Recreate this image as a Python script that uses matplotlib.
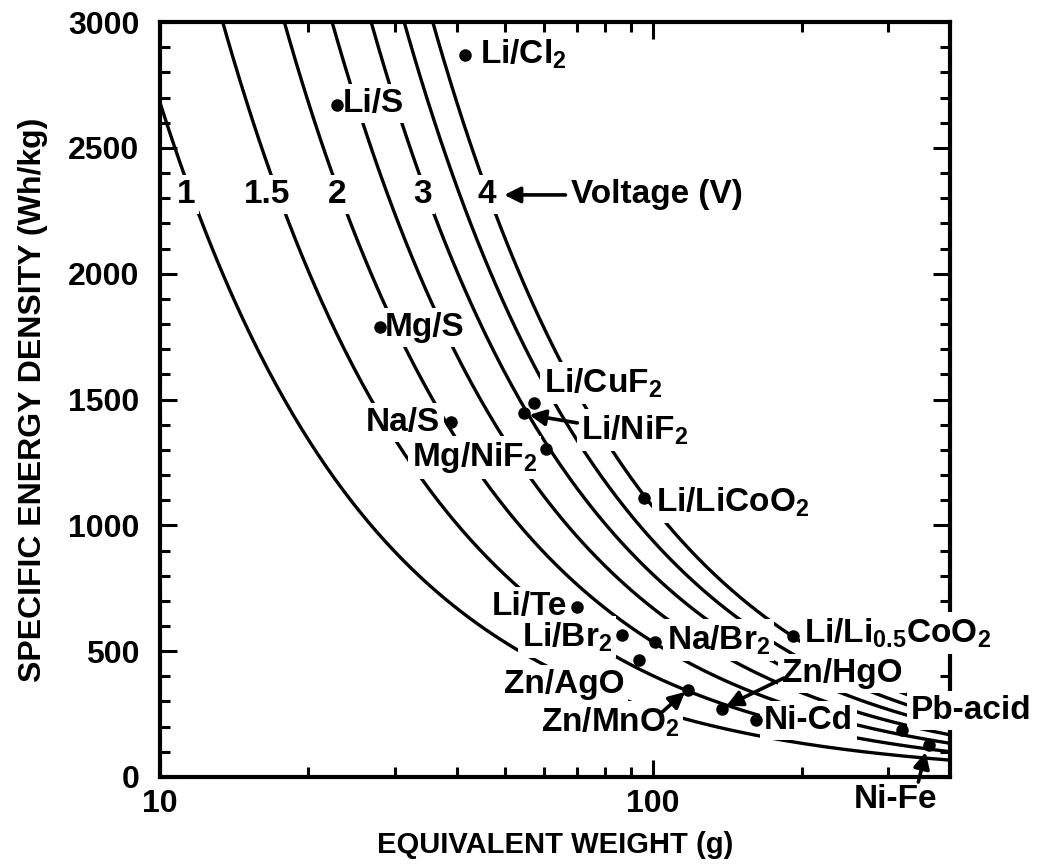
import numpy as np
import matplotlib.pyplot as plt
from matplotlib.ticker import FixedLocator, NullFormatter, FixedFormatter, MultipleLocator

plt.rcParams['font.family'] = ['Liberation Sans', 'DejaVu Sans']
plt.rcParams['font.weight'] = 'bold'
plt.rcParams['axes.labelweight'] = 'bold'
plt.rcParams['mathtext.fontset'] = 'custom'
plt.rcParams['mathtext.rm'] = 'Liberation Sans:bold'
plt.rcParams['mathtext.it'] = 'Liberation Sans:bold'
plt.rcParams['mathtext.bf'] = 'Liberation Sans:bold'

# iso-voltage lines: E (Wh/kg) = 26.8 Ah/equiv * V / EW
voltages = [1, 1.5, 2, 2.5, 3, 3.5, 4]
voltage_labels = ['1', '1.5', '2', '3', '4']
voltage_label_x = [11.3, 16.5, 22.9, 34.0, 45.9]
voltage_label_y = 2313
FARADAY_AH = 26.8

# couples: equivalent weight (g), specific energy (Wh/kg)
couples = ['Li/Cl$_2$', 'Li/S', 'Mg/S', 'Na/S', 'Li/CuF$_2$', 'Li/NiF$_2$',
           'Mg/NiF$_2$', 'Li/LiCoO$_2$', 'Li/Te', 'Li/Br$_2$', 'Na/Br$_2$',
           'Zn/AgO', 'Zn/MnO$_2$', 'Zn/HgO', 'Ni-Cd', 'Li/Li$_{0.5}$CoO$_2$',
           'Pb-acid', 'Ni-Fe']
equiv_weight = [41.6, 22.8, 27.9, 39.0, 57.4, 54.6, 60.5, 96.0, 70.2, 86.5,
                100.9, 93.7, 117.8, 138.0, 161.6, 192.0, 319.0, 362.0]
spec_energy = [2870, 2670, 1788, 1411, 1486, 1447, 1303, 1109, 676, 564,
               536, 465, 346, 270, 227, 560, 187, 127]

# label anchor (x, y, ha) for each couple
label_x = [44.5, 23.5, 28.6, 36.9, 60.1, 71.5, 58.2, 101.4, 67.0, 82.6,
           106.7, 87.3, 112.9, 182.4, 167.8, 202.2, 332.7, 310.5]
label_y = [2870, 2678, 1788, 1407, 1566, 1379, 1268, 1093, 676, 556,
           544, 366, 219, 413, 226, 572, 266, -91]
label_ha = ['left', 'left', 'left', 'right', 'left', 'left', 'right', 'left',
            'right', 'right', 'left', 'right', 'right', 'left', 'left', 'left',
            'left', 'center']

# pointer arrows: (from, to)
arrows = [((66.4, 2313), (49.9, 2313)),
          ((70.2, 1407), (56.1, 1439)),
          ((104.3, 258), (116.1, 338)),
          ((184.0, 393), (140.7, 282)),
          ((345.0, -20), (357.0, 99))]

fig = plt.figure(figsize=(10.41, 8.64), dpi=100)
ax = fig.add_axes([0.1537, 0.1007, 0.7589, 0.8738])

ew = np.geomspace(8, 400, 400)
for v in voltages:
    ax.plot(ew, FARADAY_AH * v * 1000 / ew, color='black', lw=2.4, zorder=2)

box = dict(facecolor='white', edgecolor='none', pad=3)
for lab, lx in zip(voltage_labels, voltage_label_x):
    ax.text(lx, voltage_label_y, lab, fontsize=24, ha='center', va='center',
            bbox=box, zorder=3)
ax.text(68.2, voltage_label_y, 'Voltage (V)', fontsize=24, ha='left',
        va='center', bbox=box, zorder=3)

ax.plot(equiv_weight, spec_energy, 'o', color='black', ms=8, zorder=5,
        clip_on=False)
for name, lx, ly, ha in zip(couples, label_x, label_y, label_ha):
    ax.text(lx, ly, name, fontsize=24, ha=ha, va='center', bbox=box,
            zorder=3, clip_on=False)

for start, end in arrows:
    ax.annotate('', xy=end, xytext=start, zorder=5, annotation_clip=False,
                arrowprops=dict(arrowstyle='-|>', color='black', lw=2.6,
                                mutation_scale=24, shrinkA=0, shrinkB=0))

ax.set_xscale('log')
ax.set_xlim(10, 400)
ax.set_ylim(0, 3000)
ax.xaxis.set_major_locator(FixedLocator([10, 100]))
ax.xaxis.set_major_formatter(FixedFormatter(['10', '100']))
ax.xaxis.set_minor_locator(FixedLocator([20, 30, 40, 50, 60, 70, 80, 90, 200, 300]))
ax.xaxis.set_minor_formatter(NullFormatter())
ax.yaxis.set_major_locator(MultipleLocator(500))
ax.yaxis.set_minor_locator(MultipleLocator(100))

ax.tick_params(which='both', direction='in', top=True, right=True,
               labelsize=23, width=2.2)
ax.tick_params(axis='y', pad=15)
ax.tick_params(axis='x', pad=9)
ax.tick_params(which='major', length=12)
ax.tick_params(which='minor', length=7)
for sp in ax.spines.values():
    sp.set_linewidth(3)

ax.set_xlabel('EQUIVALENT WEIGHT (g)', fontsize=21, labelpad=8)
ax.set_ylabel('SPECIFIC ENERGY DENSITY (Wh/kg)', fontsize=23, labelpad=14)

fig.savefig('out.png', dpi=100)
